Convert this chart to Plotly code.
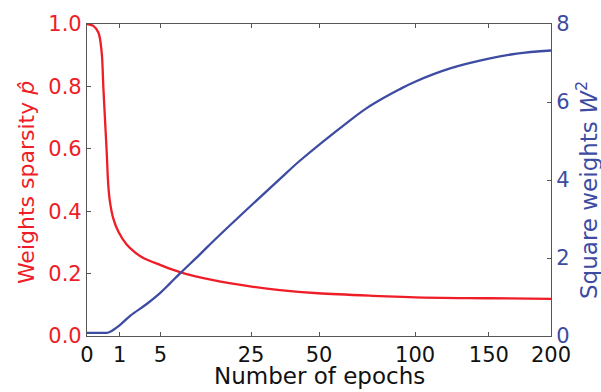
import numpy as np
import plotly.graph_objects as go

# Data (x axis uses a square-root scale)
epochs_red = [0, 0.037, 0.12, 0.2, 0.247, 0.30, 0.36, 0.42, 0.49, 0.64, 0.91, 1.46,
              2.14, 2.95, 4.95, 8.0, 14.8, 24.7, 34.6, 49.6, 79.8, 100, 150, 200]
sparsity = [1.0, 0.994, 0.973, 0.909, 0.80, 0.696, 0.59, 0.484, 0.43, 0.377, 0.335, 0.293,
            0.268, 0.25, 0.228, 0.205, 0.179, 0.159, 0.147, 0.137, 0.128, 0.124, 0.121, 0.119]

epochs_blue = [0, 0.2, 0.36, 0.5, 1.0, 1.78, 3.31, 4.95, 6.4, 8.0, 11.9, 14.8, 24.7, 34.6,
               42.2, 64.3, 72.3, 81.6, 90.5, 100, 122.5, 150, 171.6, 200]
square_w = [0.08, 0.08, 0.08, 0.11, 0.28, 0.53, 0.82, 1.1, 1.35, 1.6, 2.1, 2.43, 3.32, 4.03,
            4.5, 5.53, 5.83, 6.10, 6.32, 6.52, 6.86, 7.11, 7.24, 7.32]

x_ticks = [0, 1, 5, 25, 50, 100, 150, 200]
y_ticks = [0.0, 0.2, 0.4, 0.6, 0.8, 1.0]
y2_ticks = [0, 2, 4, 6, 8]

RED = "#EE1D27"
BLUE = "#3D4CA2"
FONT = "DejaVu Sans"

def sq(v):
    return np.sqrt(np.asarray(v, dtype=float))

fig = go.Figure()
fig.add_trace(go.Scatter(x=sq(epochs_red), y=sparsity, mode="lines",
                         line=dict(color=RED, width=2.3, shape="spline", smoothing=1.0),
                         yaxis="y", showlegend=False))
fig.add_trace(go.Scatter(x=sq(epochs_blue), y=square_w, mode="lines",
                         line=dict(color=BLUE, width=2.3, shape="spline", smoothing=1.0),
                         yaxis="y2", showlegend=False))

axis_line = dict(showline=True, linecolor="#555555", linewidth=1.2, showgrid=False,
                 zeroline=False, ticks="inside", ticklen=4, tickwidth=1, tickcolor="#555555")

fig.update_layout(
    width=601, height=392,
    margin=dict(l=87, r=50, t=20, b=56),
    paper_bgcolor="white", plot_bgcolor="white",
    font=dict(family=FONT, size=21, color="black"),
    xaxis=dict(range=[0, float(np.sqrt(200))], tickvals=sq(x_ticks).tolist(),
               ticktext=[str(t) for t in x_ticks], mirror="ticks",
               tickfont=dict(color="#111111", size=21), **axis_line),
    yaxis=dict(range=[0, 1], tickvals=y_ticks, ticktext=[f"{v:.1f}" for v in y_ticks],
               tickfont=dict(color=RED, size=21), mirror=False, **axis_line),
    yaxis2=dict(range=[0, 8], tickvals=y2_ticks, ticktext=[str(v) for v in y2_ticks],
                overlaying="y", side="right", tickfont=dict(color=BLUE, size=21),
                **axis_line),
    annotations=[
        dict(text="Number of epochs", xref="paper", yref="paper", x=0.5, y=0,
             yshift=-40, xanchor="center", yanchor="middle", showarrow=False,
             font=dict(family=FONT, size=23, color="#111111")),
        dict(text="Weights sparsity <i>p̂</i>", xref="paper", yref="paper", x=0, y=0.49,
             xshift=-61, xanchor="center", yanchor="middle", textangle=-90, showarrow=False,
             font=dict(family=FONT, size=22, color=RED)),
        dict(text="Square weights <i>W</i><sup>2</sup>", xref="paper", yref="paper", x=1,
             y=0.468, xshift=36, xanchor="center", yanchor="middle", textangle=-90,
             showarrow=False, font=dict(family=FONT, size=23, color=BLUE)),
    ],
)

fig.write_html("out.html")
